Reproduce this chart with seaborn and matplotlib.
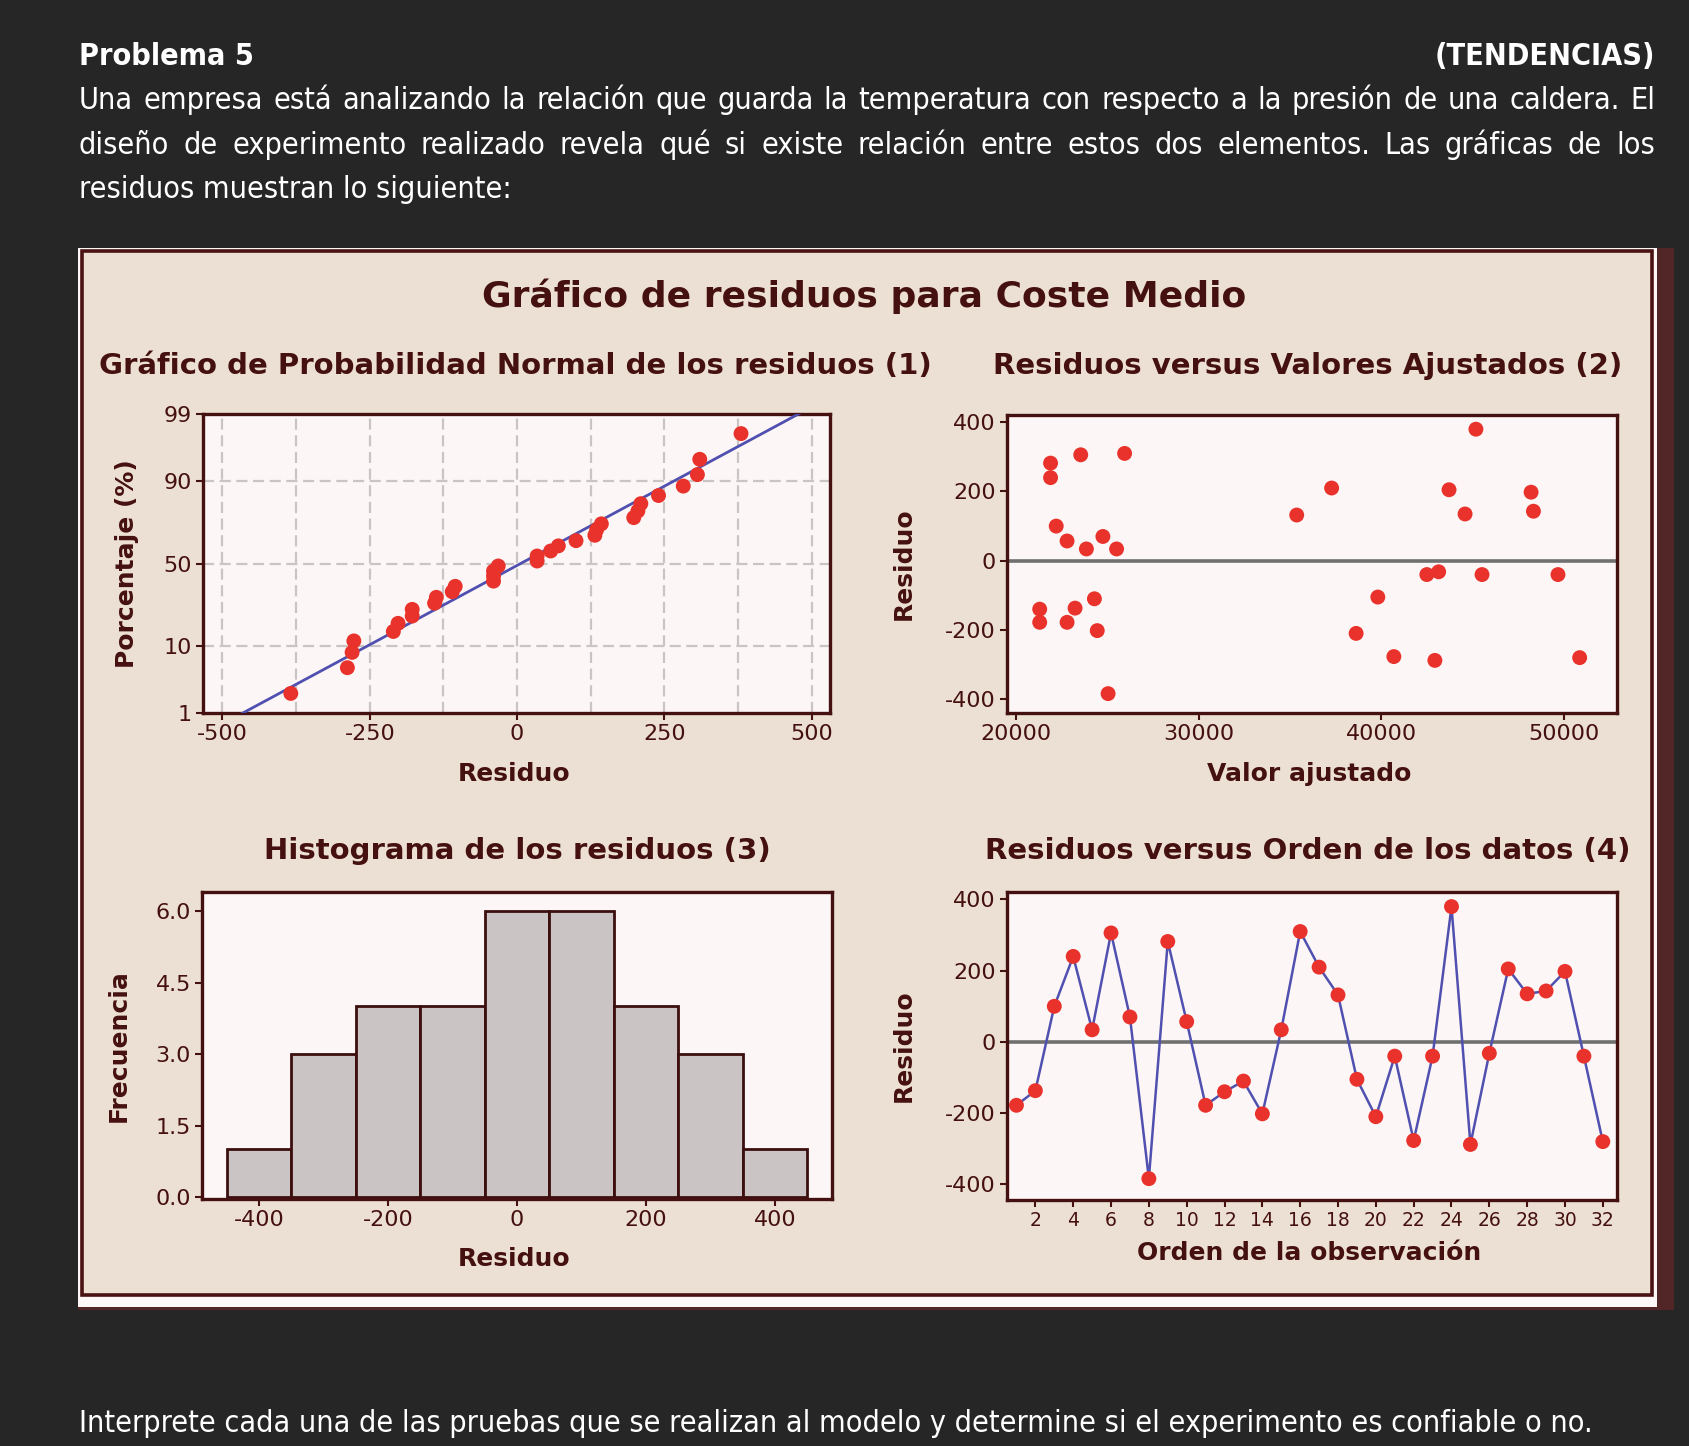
import matplotlib
matplotlib.use("Agg")
import matplotlib.pyplot as plt
import seaborn as sns
import numpy as np
import pandas as pd
from statistics import NormalDist
from matplotlib import font_manager
from matplotlib.patches import Rectangle
from matplotlib.transforms import IdentityTransform

# ---------------- data ----------------
order = list(range(1, 33))
residuals = [-178, -137, 100, 240, 34, 306, 70, -384, 282, 57, -178, -140, -110, -202, 34, 310,
             210, 132, -105, -210, -40, -277, -40, 380, -288, -32, 205, 135, 143, 198, -40, -280]
fitted = [21291, 23227, 22195, 21885, 23847, 23537, 24751, 25035, 21885, 22789, 22789, 21291,
          24286, 24441, 25500, 25939, 37274, 35363, 39804, 38616, 42489, 40682, 45510, 45175,
          42928, 43135, 43703, 44581, 48325, 48196, 49668, 50855]
hist_edges = [-450, -350, -250, -150, -50, 50, 150, 250, 350, 450]
prob_ticks = [1, 10, 50, 90, 99]
p1_xticks = [-500, -250, 0, 250, 500]
p2_xticks = [20000, 30000, 40000, 50000]
res_yticks = [-400, -200, 0, 200, 400]
hist_xticks = [-400, -200, 0, 200, 400]
hist_yticks = [0.0, 1.5, 3.0, 4.5, 6.0]
order_xticks = list(range(2, 33, 2))

header_title = "Problema 5"
header_tag = "(TENDENCIAS)"
para_lines = [
    "Una empresa está analizando la relación que guarda la temperatura con respecto a la presión de una caldera. El",
    "diseño de experimento realizado revela qué si existe relación entre estos dos elementos. Las gráficas de los",
    "residuos muestran lo siguiente:",
]
bottom_line = "Interprete cada una de las pruebas que se realizan al modelo y determine si el experimento es confiable o no."

main_title = "Gráfico de residuos para Coste Medio"
titles = ["Gráfico de Probabilidad Normal de los residuos (1)",
          "Residuos versus Valores Ajustados (2)",
          "Histograma de los residuos (3)",
          "Residuos versus Orden de los datos (4)"]

df = pd.DataFrame({"orden": order, "ajustado": fitted, "residuo": residuals})

# ---------------- style ----------------
sns.set_style("white")
plt.rcParams["font.family"] = ["DejaVu Sans"]
plt.rcParams["axes.unicode_minus"] = False

W, H = 1690, 1446
BG = "#262626"
BEIGE = "#ece0d4"
PANEL = "#fdf6f6"
DARK = "#451010"
RED = "#e8322b"
BLUE = "#5050b0"
GRAYLINE = "#707070"
DOT = 115

fig = plt.figure(figsize=(W / 100, H / 100), dpi=100, facecolor=BG)


def frac_rect(l, t, r, b):
    return [l / W, 1 - b / H, (r - l) / W, (b - t) / H]


def add_rect(l, t, r, b, fc, ec="none", lw=0, z=-3):
    fig.patches.append(Rectangle((l / W, 1 - b / H), (r - l) / W, (b - t) / H,
                                 transform=fig.transFigure, facecolor=fc, edgecolor=ec,
                                 linewidth=lw, zorder=z))


# frame of the embedded chart image (drawn below the axes)
add_rect(78, 248, 1674, 1310, "#522626", z=-3)
add_rect(78, 248, 1657, 1307, "#fdf7f7", z=-2)
add_rect(82, 251, 1652, 1295, BEIGE, ec="#4a1212", lw=2.6, z=-1)

# ---------------- header text ----------------
head_props = {"family": "Liberation Sans"}
names = {(f.name, f.stretch) for f in font_manager.fontManager.ttflist}
if any(nm == "Liberation Sans Narrow" for nm, _ in names):
    head_props = {"family": "Liberation Sans Narrow"}
elif ("DejaVu Sans", "condensed") in names:
    head_props = {"family": "DejaVu Sans", "fontstretch": "condensed"}

renderer = fig.canvas.get_renderer()
probe = fig.text(0, 0, bottom_line, fontsize=27, transform=IdentityTransform(), **head_props)
natural = probe.get_window_extent(renderer).width
probe.remove()
hsize = 27 * (1593 - 79) / natural * 0.995


def ptext(x, y_top, s, **kw):
    return fig.text(x, H - y_top, s, transform=IdentityTransform(), color="white",
                    fontsize=hsize, va="baseline", **head_props, **kw)


def justified(line, x0, x1, y_top):
    words = line.split()
    objs = [ptext(0, y_top, w) for w in words]
    widths = [o.get_window_extent(renderer).width for o in objs]
    gap = (x1 - x0 - sum(widths)) / (len(words) - 1)
    x = x0
    for o, w in zip(objs, widths):
        o.set_x(x)
        x += w + gap


ptext(79, 65, header_title, fontweight="bold")
ptext(1655, 65, header_tag, fontweight="bold", ha="right")
justified(para_lines[0], 79, 1655, 109)
justified(para_lines[1], 79, 1655, 154)
ptext(79, 198, para_lines[2])
ptext(79, 1432, bottom_line)

# ---------------- chart titles ----------------
fig.text(864 / W, 1 - 296 / H, main_title, ha="center", va="center", fontsize=26,
         fontweight="bold", color=DARK)
title_pos = [(515, 366), (1308, 366), (517, 851), (1308, 851)]
for (tx, ty), s in zip(title_pos, titles):
    fig.text(tx / W, 1 - ty / H, s, ha="center", va="center", fontsize=21,
             fontweight="bold", color=DARK)


def style_axes(ax, xlabel, ylabel, xl_coords, yl_coords, xtick_size=16):
    ax.set_facecolor(PANEL)
    for sp in ax.spines.values():
        sp.set_color(DARK)
        sp.set_linewidth(2.4)
        sp.set_visible(True)
    ax.tick_params(axis="both", direction="out", length=5, width=1.5, color=DARK,
                   labelcolor=DARK, labelsize=16, pad=3, bottom=True, left=True)
    ax.tick_params(axis="x", labelsize=xtick_size)
    ax.set_xlabel(xlabel, fontsize=18, fontweight="bold", color=DARK)
    ax.set_ylabel(ylabel, fontsize=18, fontweight="bold", color=DARK)
    ax.xaxis.set_label_coords(*xl_coords)
    ax.yaxis.set_label_coords(*yl_coords)
    ax.xaxis.label.set_va("center")
    ax.yaxis.label.set_va("center")


# ---------------- panel 1: normal probability plot ----------------
ax1 = fig.add_axes(frac_rect(203, 414, 830, 713))
nd = NormalDist()
n = len(residuals)
sorted_res = np.sort(residuals)
zscores = [nd.inv_cdf((i - 0.3) / (n + 0.4)) for i in range(1, n + 1)]
mu, sd = float(np.mean(residuals)), float(np.std(residuals, ddof=1))
zline = np.array([-2.6, 2.6])
ax1.plot(mu + sd * zline, zline, color=BLUE, lw=2.0, zorder=3)
sns.scatterplot(x=sorted_res, y=zscores, ax=ax1, color=RED, s=DOT, edgecolor="none", zorder=4)
for gx in np.arange(-500, 501, 125):
    ax1.axvline(gx, color="#c9c5c5", lw=1.6, dashes=(5, 2.5), zorder=1)
for p in prob_ticks[1:-1]:
    ax1.axhline(nd.inv_cdf(p / 100), color="#c9c5c5", lw=1.6, dashes=(5, 2.5), zorder=1)
ax1.set_xlim(-533, 531)
ax1.set_ylim(nd.inv_cdf(0.01), nd.inv_cdf(0.99))
ax1.set_xticks(p1_xticks)
ax1.set_yticks([nd.inv_cdf(p / 100) for p in prob_ticks])
ax1.set_yticklabels([str(p) for p in prob_ticks])
style_axes(ax1, "Residuo", "Porcentaje (%)", (0.496, -0.204), (-0.121, 0.5))

# ---------------- panel 2: residuals vs fitted ----------------
ax2 = fig.add_axes(frac_rect(1007, 415, 1617, 713))
ax2.axhline(0, color=GRAYLINE, lw=2.6, zorder=1)
sns.scatterplot(data=df, x="ajustado", y="residuo", ax=ax2, color=RED, s=DOT,
                edgecolor="none", zorder=4)
ax2.set_xlim(19500, 52900)
ax2.set_ylim(-440, 421)
ax2.set_xticks(p2_xticks)
ax2.set_yticks(res_yticks)
style_axes(ax2, "Valor ajustado", "Residuo", (0.496, -0.205), (-0.170, 0.5))

# ---------------- panel 3: histogram ----------------
ax3 = fig.add_axes(frac_rect(202, 892, 832, 1199))
sns.histplot(x=residuals, bins=hist_edges, ax=ax3, color="#cbc4c4", edgecolor="#3d0e0e",
             linewidth=2.0, alpha=1.0, zorder=2)
ax3.set_xlim(-488, 488)
ax3.set_ylim(-0.04, 6.4)
ax3.set_xticks(hist_xticks)
ax3.set_yticks(hist_yticks)
ax3.set_yticklabels([f"{v:.1f}" for v in hist_yticks])
style_axes(ax3, "Residuo", "Frecuencia", (0.495, -0.195), (-0.1325, 0.5))

# ---------------- panel 4: residuals vs order ----------------
ax4 = fig.add_axes(frac_rect(1007, 892, 1617, 1200))
ax4.axhline(0, color=GRAYLINE, lw=2.6, zorder=1)
sns.lineplot(data=df, x="orden", y="residuo", ax=ax4, color=BLUE, lw=1.8, zorder=3)
sns.scatterplot(data=df, x="orden", y="residuo", ax=ax4, color=RED, s=DOT,
                edgecolor="none", zorder=4)
ax4.set_xlim(0.5, 32.75)
ax4.set_ylim(-444, 421)
ax4.set_xticks(order_xticks)
ax4.set_yticks(res_yticks)
style_axes(ax4, "Orden de la observación", "Residuo", (0.496, -0.172), (-0.170, 0.5),
           xtick_size=13.5)

fig.savefig("out.png", dpi=100, facecolor=BG)
